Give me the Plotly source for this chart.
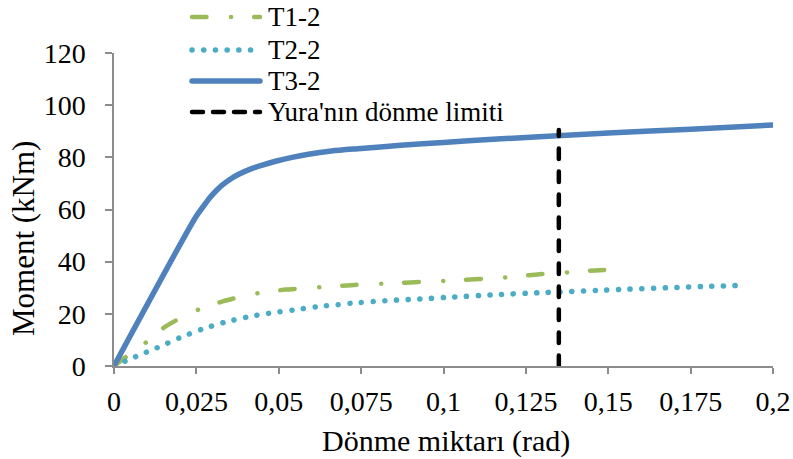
import plotly.graph_objects as go

# ---- data ----
t1_x = [0, 0.005, 0.01, 0.015, 0.02, 0.026, 0.033, 0.039, 0.045, 0.052, 0.058, 0.064,
        0.072, 0.084, 0.096, 0.103, 0.116, 0.122, 0.129, 0.135, 0.141, 0.1515]
t1_y = [0, 4.8, 9.3, 14.6, 18.3, 21.8, 24.8, 26.7, 28.2, 29.3, 29.8, 30.3,
        31.0, 31.7, 32.4, 32.8, 33.7, 34.3, 35.2, 35.6, 36.3, 37.0]

t2_x = [0, 0.0066, 0.0131, 0.0199, 0.0267, 0.0334, 0.0402, 0.0475, 0.0546, 0.0616,
        0.0687, 0.0723, 0.0835, 0.0938, 0.101, 0.1151, 0.1293, 0.147, 0.1546, 0.1723, 0.1794, 0.1906]
t2_y = [0, 3.6, 7.0, 10.8, 14.1, 16.7, 18.7, 20.3, 21.5, 22.7,
        23.6, 24.1, 25.1, 25.8, 26.3, 27.3, 28.1, 29.0, 29.4, 30.2, 30.5, 30.9]

t3_x = [0, 0.025, 0.027, 0.029, 0.031, 0.033, 0.0355, 0.038, 0.041, 0.045, 0.049, 0.054,
        0.059, 0.066, 0.074, 0.087, 0.1, 0.115, 0.129, 0.15, 0.175, 0.2]
t3_y = [0, 57.5, 61.0, 64.4, 67.2, 69.5, 71.8, 73.6, 75.3, 77.0, 78.5, 80.0,
        81.2, 82.4, 83.3, 84.6, 85.7, 86.9, 87.9, 89.3, 90.8, 92.4]

limit_x = [0.135, 0.135]
limit_y = [0, 90.5]

series_names = ["T1-2", "T2-2", "T3-2", "Yura'nın dönme limiti"]

x_tickvals = [0, 0.025, 0.05, 0.075, 0.1, 0.125, 0.15, 0.175, 0.2]
x_ticktext = ["0", "0,025", "0,05", "0,075", "0,1", "0,125", "0,15", "0,175", "0,2"]
y_tickvals = [0, 20, 40, 60, 80, 100, 120]
y_ticktext = ["0", "20", "40", "60", "80", "100", "120"]

x_title = "Dönme miktarı (rad)"
y_title = "Moment (kNm)"

# ---- styles ----
FONT = "Liberation Serif"
C1, C2, C3, C4 = "#9BBB59", "#4BACC6", "#4F81BD", "#000000"
# dash patterns are drawn with round caps (see post_script)
D1 = "14.5px,24.5px,0.1px,23px"
D2 = "0.1px,11.6px"
D4 = "10.5px,12.5px"
D4_LEG = "11px,10px"
AX = "#8C8C8C"

W, H = 793, 459
L, R, T, B = 114, 773, 53, 366


def px(x):
    return (x - L) / (R - L)


def py(y):
    return (B - y) / (B - T)


fig = go.Figure()
fig.add_trace(go.Scatter(x=t1_x, y=t1_y, mode="lines", name=series_names[0],
                         line=dict(color=C1, width=4.5, dash=D1, shape="spline", smoothing=0.6)))
fig.add_trace(go.Scatter(x=t2_x, y=t2_y, mode="lines", name=series_names[1],
                         line=dict(color=C2, width=5.5, dash=D2, shape="spline", smoothing=0.6)))
fig.add_trace(go.Scatter(x=t3_x, y=t3_y, mode="lines", name=series_names[2],
                         line=dict(color=C3, width=5.5, shape="spline", smoothing=0.8)))
fig.add_trace(go.Scatter(x=limit_x, y=limit_y, mode="lines", name=series_names[3],
                         line=dict(color=C4, width=4.5, dash=D4)))

# manual legend (long sample lines like the original)
leg_y = [17, 50, 81, 112]
leg_styles = [(C1, D1, 4.5), (C2, D2, 5.5), (C3, "solid", 5.5), (C4, D4_LEG, 4.5)]
shapes = []
annotations = []
for name, yy, (col, dsh, wd) in zip(series_names, leg_y, leg_styles):
    shapes.append(dict(type="line", xref="paper", yref="paper",
                       x0=px(192), x1=px(260), y0=py(yy), y1=py(yy),
                       line=dict(color=col, width=wd, dash=dsh)))
    annotations.append(dict(text=name, xref="paper", yref="paper", x=px(266), y=py(yy),
                            xanchor="left", yanchor="middle", showarrow=False,
                            font=dict(family=FONT, size=27, color="black")))

annotations.append(dict(text=x_title, xref="paper", yref="paper", x=px(446), y=py(441),
                        xanchor="center", yanchor="middle", showarrow=False,
                        font=dict(family=FONT, size=30, color="black")))
annotations.append(dict(text=y_title, xref="paper", yref="paper", x=px(23), y=py(238),
                        xanchor="center", yanchor="middle", showarrow=False, textangle=-90,
                        font=dict(family=FONT, size=31, color="black")))

fig.update_layout(
    width=W, height=H,
    margin=dict(l=L, r=W - R, t=T, b=H - B, pad=0, autoexpand=False),
    paper_bgcolor="white", plot_bgcolor="white",
    showlegend=False,
    font=dict(family=FONT, size=28, color="black"),
    shapes=shapes, annotations=annotations,
    xaxis=dict(range=[0, 0.2], tickvals=x_tickvals, ticktext=x_ticktext, automargin=False,
               showgrid=False, zeroline=False, showline=True, linecolor=AX, linewidth=1.5,
               ticks="outside", ticklen=6, tickcolor=AX, tickwidth=1.5,
               tickfont=dict(family=FONT, size=28, color="black"), ticklabelstandoff=4),
    yaxis=dict(range=[0, 120], tickvals=y_tickvals, ticktext=y_ticktext, automargin=False,
               showgrid=False, zeroline=False, showline=True, linecolor=AX, linewidth=1.5,
               ticks="outside", ticklen=7, tickcolor=AX, tickwidth=1.5,
               tickfont=dict(family=FONT, size=28, color="black"), ticklabelstandoff=14),
)

post = (
    "document.body.style.margin='0';document.body.style.overflow='hidden';"
    "var s=document.createElement('style');"
    "s.textContent='.scatterlayer path.js-line, .shapelayer path{stroke-linecap:round !important;stroke-linejoin:round !important;}';"
    "document.head.appendChild(s);"
)

fig.write_html("out.html", config={"displayModeBar": False}, post_script=post)
